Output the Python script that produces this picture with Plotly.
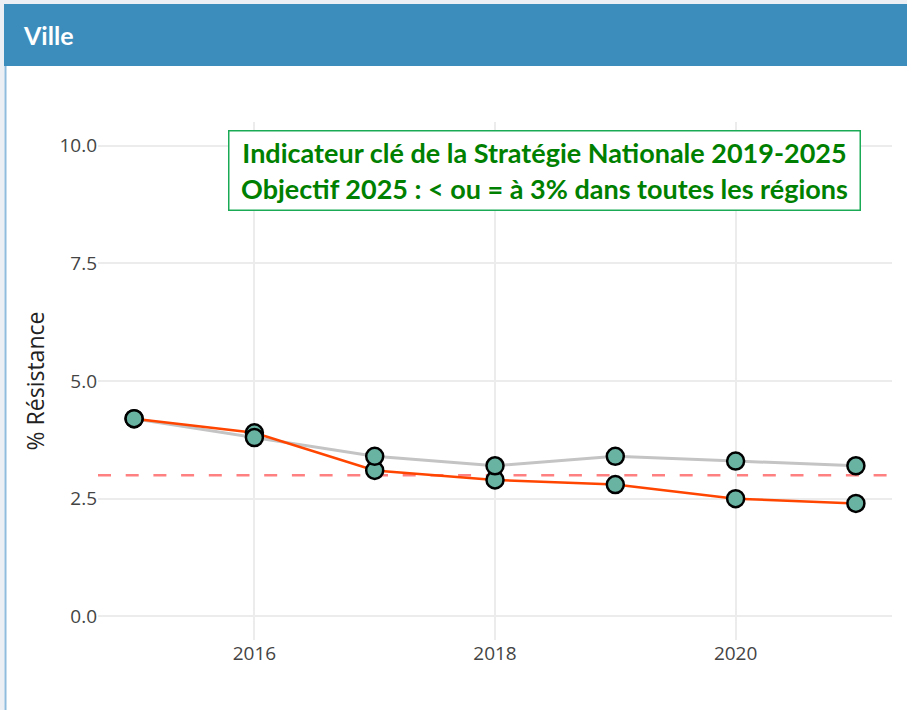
import plotly.graph_objects as go

# ---- data ----
years = [2015, 2016, 2017, 2018, 2019, 2020, 2021]
ville = [4.2, 3.9, 3.1, 2.9, 2.8, 2.5, 2.4]
reference = [4.2, 3.8, 3.4, 3.2, 3.4, 3.3, 3.2]
objective = 3.0
x_ticks = [2016, 2018, 2020]
y_ticks = [0, 2.5, 5, 7.5, 10]
panel_title = "Ville"
y_title = "% Résistance"
note_text = ("Indicateur clé de la Stratégie Nationale 2019-2025<br>"
             "Objectif 2025 : &lt; ou = à 3% dans toutes les régions")

# ---- layout geometry (pixels) ----
W, H = 907, 710
L, R, T, B = 98, 892, 122, 640


def px(xp):
    return (xp - L) / (R - L)


def py(yp):
    return (B - yp) / (B - T)


MARK = "#69b3a2"

fig = go.Figure()
fig.add_trace(go.Scatter(x=years, y=reference, mode="lines",
                         line=dict(color="#c4c4c4", width=3), hoverinfo="skip"))
fig.add_trace(go.Scatter(x=years, y=ville, mode="lines",
                         line=dict(color="#ff4500", width=2.5), hoverinfo="skip"))
fig.add_trace(go.Scatter(x=years, y=ville, mode="markers",
                         marker=dict(color=MARK, size=17, line=dict(color="black", width=2.5))))
fig.add_trace(go.Scatter(x=years, y=reference, mode="markers",
                         marker=dict(color=MARK, size=17, line=dict(color="black", width=2.5))))

shapes = [
    # page background strips
    dict(type="rect", xref="paper", yref="paper", x0=px(0), x1=px(W), y0=py(0), y1=py(4),
         fillcolor="#ecf0f5", line=dict(width=0), layer="below"),
    dict(type="rect", xref="paper", yref="paper", x0=px(0), x1=px(4.5), y0=py(0), y1=py(H),
         fillcolor="#ecf0f5", line=dict(width=0), layer="below"),
    # header
    dict(type="rect", xref="paper", yref="paper", x0=px(4), x1=px(W), y0=py(4), y1=py(66),
         fillcolor="#3c8dbc", line=dict(width=0)),
    # panel left border
    dict(type="line", xref="paper", yref="paper", x0=px(5.5), x1=px(5.5), y0=py(66), y1=py(H),
         line=dict(color="#8fbbdc", width=2)),
    # objective line
    dict(type="line", xref="paper", yref="y", x0=0, x1=1, y0=objective, y1=objective,
         line=dict(color="#ff8080", width=2.5, dash="13px,14.7px"), layer="below"),
]

annotations = [
    dict(text="<b>" + panel_title + "</b>", xref="paper", yref="paper",
         x=px(21), y=py(35), xanchor="left", yanchor="middle", showarrow=False,
         font=dict(family="Lato", size=25, color="white")),
    dict(text="<b>" + note_text + "</b>", xref="paper", yref="paper",
         x=px(544.5), y=py(170.5), xanchor="center", yanchor="middle", showarrow=False,
         width=622, height=70, borderpad=4, borderwidth=1.5,
         bordercolor="#1aaa55", bgcolor="white",
         font=dict(family="Lato", size=27, color="green")),
]

fig.update_layout(
    width=W, height=H,
    margin=dict(l=L, r=W - R, t=T, b=H - B, autoexpand=False),
    paper_bgcolor="white", plot_bgcolor="white",
    showlegend=False,
    font=dict(family="Open Sans", size=19, color="#444"),
    shapes=shapes, annotations=annotations,
    xaxis=dict(range=[2014.7, 2021.3], tickvals=x_ticks, ticktext=[str(v) for v in x_ticks],
               showgrid=True, gridcolor="#ececec", gridwidth=2, zeroline=False,
               showline=False, ticks=""),
    yaxis=dict(range=[-0.5, 10.5], tickvals=y_ticks, tickformat=".1f",
               showgrid=True, gridcolor="#ececec", gridwidth=2, zeroline=False,
               showline=False, ticks="",
               title=dict(text=y_title, font=dict(size=23, color="#222"), standoff=8)),
)

fig.write_html("out.html", config={"displayModeBar": False},
               post_script="document.body.style.margin='0';")
